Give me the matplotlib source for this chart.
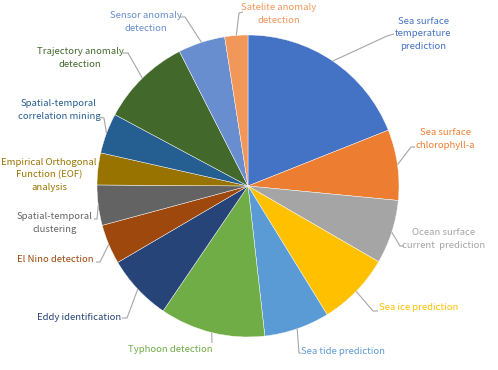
import numpy as np
import matplotlib
matplotlib.use("Agg")
import matplotlib.pyplot as plt

plt.rcParams['font.family'] = ['Noto Sans CJK SC', 'DejaVu Sans']

# share of each application (degrees of arc)
tasks = [
    "Sea surface\ntemperature\nprediction",
    "Sea surface\nchlorophyll-a",
    "Ocean surface\ncurrent  prediction",
    "Sea ice prediction",
    "Sea tide prediction",
    "Typhoon detection",
    "Eddy identification",
    "El Nino detection",
    "Spatial-temporal\nclustering",
    "Empirical Orthogonal\nFunction (EOF)\nanalysis",
    "Spatial-temporal\ncorrelation mining",
    "Trajectory anomaly\ndetection",
    "Sensor anomaly\ndetection",
    "Satelite anomaly\ndetection",
]
shares = [68.3, 27.2, 24.6, 28.3, 25.2, 40.6, 25.4, 15.3, 15.5, 12.3, 15.5, 34.8, 18.1, 8.9]
colors = ["#4472C4", "#ED7D31", "#A5A5A5", "#FFC000", "#5B9BD5", "#70AD47",
          "#264478", "#9E480E", "#636363", "#997300", "#255E91", "#43682B",
          "#698ED0", "#F1975A"]

# layout in pixels of the 498x370 picture
W, H = 498, 370
CX, CY, R = 248, 186, 151

def px(x, y):
    return (x - CX) / R, (CY - y) / R

# text anchor, alignment, leader elbow, leader end
label_pos = [(423, 34), (445, 139), (444, 239), (379, 308), (301, 351), (213, 350),
             (121, 317), (94, 260), (55, 223), (49, 175), (59, 110), (80, 58),
             (146, 22), (279, 14)]
label_ha = ["center", "center", "center", "left", "left", "right", "right",
            "right", "center", "center", "center", "center", "center", "center"]
elbows = [(387, 36), (411, 147), (400, 246), (373, 311), (299, 353), (212, 343),
          (127, 318), (100, 262), (97, 219), None, (104, 118), (128, 53),
          (185, 17), (239, 13)]
ends = [(394, 34), (415, 147), (404, 246), (378, 311), (301, 353), (212, 343),
        (122, 318), (96, 262), (94, 219), None, (99, 117), (123, 53),
        (180, 17), (243, 12)]

fig = plt.figure(figsize=(W / 100, H / 100), dpi=100)
ax = fig.add_axes([0, 0, 1, 1])
ax.set_aspect("equal")
ax.axis("off")

wedges, _ = ax.pie(shares, colors=colors, startangle=90, counterclock=False,
                   radius=1, center=(0, 0),
                   wedgeprops=dict(edgecolor="white", linewidth=0.3))
ax.set_xlim(-CX / R, (W - CX) / R)
ax.set_ylim((CY - H) / R, CY / R)

for i, w in enumerate(wedges):
    mid = np.deg2rad((w.theta1 + w.theta2) / 2)
    x0, y0 = np.cos(mid), np.sin(mid)
    if elbows[i] is not None:
        ex, ey = px(*elbows[i])
        nx, ny = px(*ends[i])
        ax.plot([x0, ex, nx], [y0, ey, ny], color="#A6A6A6", lw=0.8,
                solid_capstyle="butt")
    tx, ty = px(*label_pos[i])
    ax.text(tx, ty, tasks[i], color=colors[i], fontsize=6.9, ha=label_ha[i],
            va="center", multialignment="center", linespacing=1.55)

fig.savefig("out.png", dpi=100)
